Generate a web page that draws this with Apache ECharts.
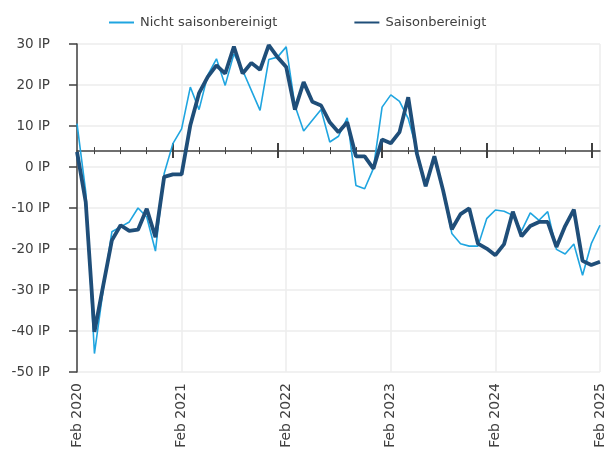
<!DOCTYPE html>
<html>
<head>
<meta charset="utf-8">
<script src="https://cdn.jsdelivr.net/npm/echarts@6/dist/echarts.min.js"></script>
<style>
  html, body { margin: 0; padding: 0; background: #fff; }
  #main { width: 607px; height: 457px; }
</style>
</head>
<body>
<div id="main"></div>
<script>
// Monate Feb 2020 .. Feb 2025
var monthNames = ['Jan', 'Feb', 'Mrz', 'Apr', 'Mai', 'Jun', 'Jul', 'Aug', 'Sep', 'Okt', 'Nov', 'Dez'];
var categories = [];
for (var k = 0; k <= 60; k++) {
  var m = (1 + k) % 12;
  var y = 2020 + Math.floor((1 + k) / 12);
  categories.push(monthNames[m] + ' ' + y);
}

var nichtSaison = [
  10.6, -6, -45.5, -30, -15.8, -14.6, -13.4, -10, -12.2, -20.5,
  -1.6, 5.7, 9.3, 19.5, 14, 22.4, 26.4, 19.9, 27.6, 23.6,
  18.7, 13.8, 26.2, 26.8, 29.3, 15, 8.8, 11.4, 14, 6.1,
  7.5, 12, -4.5, -5.3, -0.4, 14.6, 17.6, 16, 11.8, 4,
  -4.7, 2.4, -5.7, -16.2, -18.7, -19.3, -19.3, -12.6, -10.5, -10.8,
  -11.8, -15.6, -11.2, -13, -10.9, -20.1, -21.2, -18.8, -26.4, -18.7,
  -14.2
];
var saison = [
  3.7, -8.5, -40.2, -29, -17.9, -14.2, -15.6, -15.3, -10.2, -17.1,
  -2.4, -1.8, -1.8, 10.2, 18, 22, 24.8, 22.8, 29.4, 22.8,
  25.4, 23.7, 29.7, 26.8, 24.4, 14, 20.7, 15.9, 15, 10.9,
  8.5, 10.9, 2.6, 2.6, -0.4, 6.7, 5.8, 8.5, 17, 3.2,
  -4.7, 2.6, -5.7, -15.2, -11.5, -10.1, -18.7, -19.9, -21.5, -18.8,
  -10.9, -16.9, -14.4, -13.4, -13.4, -19.5, -14.4, -10.4, -22.9, -23.9,
  -23.1
];

var yMin = -50, yMax = 30, crossAt = 4;
var gridTop = 44, gridBottom = 85;
var plotH = 457 - gridTop - gridBottom;
var crossOffset = -((yMax - crossAt) / (yMax - yMin)) * plotH;

var font = 'DejaVu Sans';
var textColor = '#404040';
var lineColor = '#404040';

function isMajor(i) { return i % 12 === 11; }
function isMinor(i) { return i % 3 === 2 && !isMajor(i); }

function tickAxis(showLine, inside, len, width, fn) {
  return {
    type: 'category',
    data: categories,
    boundaryGap: false,
    position: 'top',
    offset: crossOffset,
    axisLine: { show: showLine, lineStyle: { color: lineColor, width: 1.5 } },
    axisTick: { show: true, inside: inside, length: len, interval: fn,
      lineStyle: { color: lineColor, width: width } },
    axisLabel: { show: false },
    splitLine: { show: false }
  };
}

var chart = echarts.init(document.getElementById('main'));
chart.setOption({
  backgroundColor: '#fff',
  animation: false,
  textStyle: { fontFamily: font },
  grid: { left: 77, right: 7, top: gridTop, bottom: gridBottom, containLabel: false },
  legend: {
    top: 11,
    left: 103,
    itemGap: 76,
    itemWidth: 25,
    itemHeight: 10,
    itemStyle: { opacity: 0 },
    textStyle: { color: textColor, fontSize: 13, fontFamily: font, padding: [0, 0, 0, 1] },
    data: ['Nicht saisonbereinigt', 'Saisonbereinigt']
  },
  xAxis: [
    {
      type: 'category',
      data: categories,
      boundaryGap: false,
      position: 'bottom',
      axisLine: { show: false },
      axisTick: { show: false },
      axisLabel: {
        rotate: 90,
        color: textColor,
        fontSize: 14,
        margin: 11,
        interval: function (i) { return i % 12 === 0; }
      },
      splitLine: {
        show: true,
        interval: function (i) { return i % 12 === 0; },
        lineStyle: { color: '#ececec', width: 1.5 }
      }
    },
    tickAxis(true, false, 3.5, 1, isMinor),
    tickAxis(false, true, 3.5, 1, isMinor),
    tickAxis(false, false, 7.5, 2, isMajor),
    tickAxis(false, true, 7.5, 2, isMajor)
  ],
  yAxis: {
    type: 'value',
    min: yMin,
    max: yMax,
    interval: 10,
    axisLine: { show: true, lineStyle: { color: lineColor, width: 1.5 } },
    axisTick: { show: true, length: 8, lineStyle: { color: lineColor, width: 1.5 } },
    axisLabel: { color: textColor, fontSize: 13.5, margin: 27, formatter: '{value} IP' },
    splitLine: { show: true, lineStyle: { color: '#ececec', width: 1.5 } }
  },
  series: [
    {
      name: 'Nicht saisonbereinigt',
      type: 'line',
      data: nichtSaison,
      symbol: 'none',
      lineStyle: { color: '#1fa5e0', width: 1.6 },
      itemStyle: { color: '#1fa5e0' }
    },
    {
      name: 'Saisonbereinigt',
      type: 'line',
      data: saison,
      symbol: 'none',
      lineStyle: { color: '#1f4e79', width: 3.8 },
      itemStyle: { color: '#1f4e79' }
    }
  ]
});
</script>
</body>
</html>
